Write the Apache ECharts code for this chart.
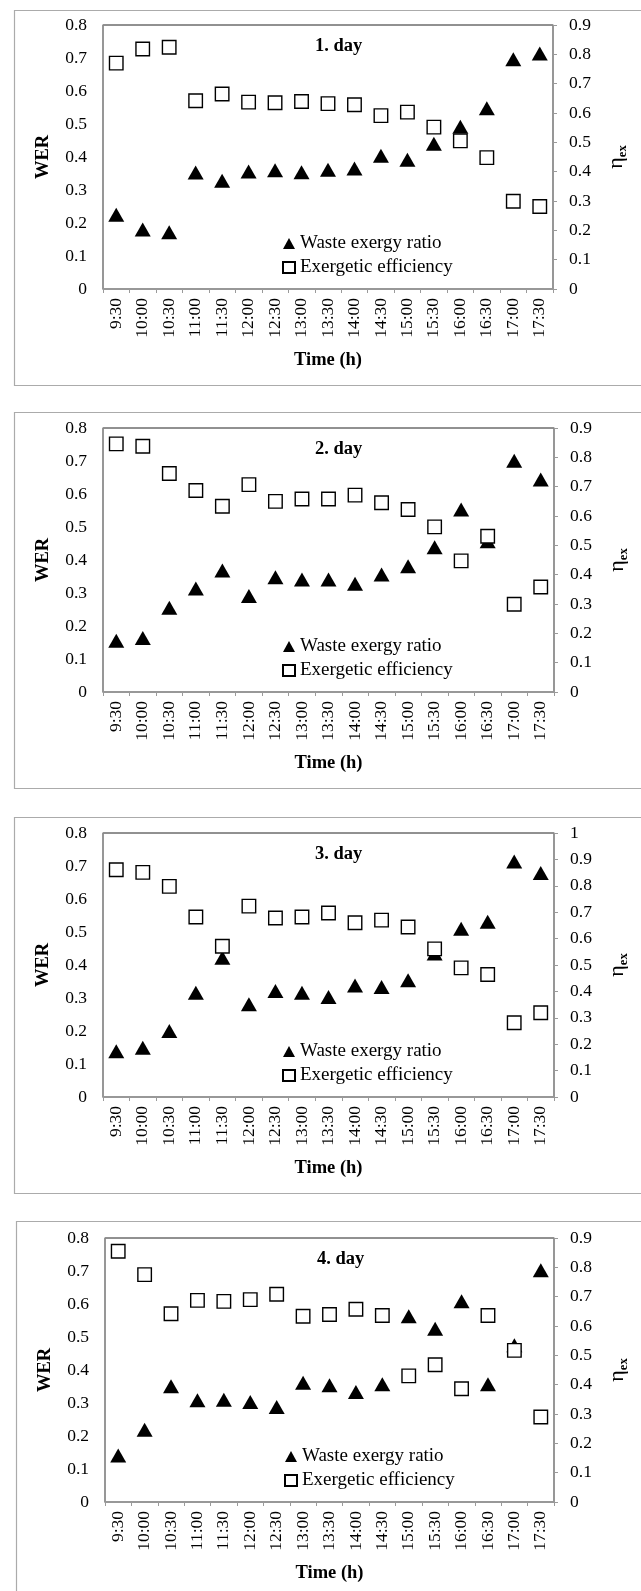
<!DOCTYPE html>
<html>
<head>
<meta charset="utf-8">
<script src="https://cdn.jsdelivr.net/npm/echarts@6/dist/echarts.min.js"></script>
<style>
  html, body { margin: 0; padding: 0; background: #fff; }
  #main { width: 641px; height: 1591px; }
</style>
</head>
<body>
<div id="main"></div>
<script>
// time of day (x categories)
var times = ['9:30', '10:00', '10:30', '11:00', '11:30', '12:00', '12:30', '13:00', '13:30',
  '14:00', '14:30', '15:00', '15:30', '16:00', '16:30', '17:00', '17:30'];

// waste exergy ratio (left axis) and exergetic efficiency (right axis)
var werDay1 = [0.225, 0.18, 0.172, 0.353, 0.328, 0.356, 0.36, 0.354, 0.361, 0.365, 0.404, 0.392, 0.44, 0.492, 0.548, 0.696, 0.714];
var etaDay1 = [0.77, 0.818, 0.824, 0.642, 0.665, 0.637, 0.635, 0.639, 0.632, 0.628, 0.591, 0.603, 0.552, 0.505, 0.448, 0.299, 0.281];

var werDay2 = [0.155, 0.164, 0.255, 0.314, 0.368, 0.291, 0.348, 0.341, 0.341, 0.328, 0.356, 0.381, 0.439, 0.553, 0.457, 0.701, 0.644];
var etaDay2 = [0.846, 0.838, 0.745, 0.687, 0.633, 0.707, 0.65, 0.658, 0.658, 0.671, 0.645, 0.622, 0.563, 0.447, 0.531, 0.299, 0.358];

var werDay3 = [0.139, 0.149, 0.2, 0.316, 0.422, 0.281, 0.321, 0.316, 0.303, 0.338, 0.333, 0.354, 0.435, 0.51, 0.531, 0.714, 0.679];
var etaDay3 = [0.861, 0.851, 0.798, 0.682, 0.571, 0.723, 0.678, 0.682, 0.697, 0.66, 0.67, 0.644, 0.561, 0.489, 0.464, 0.281, 0.319];

var werDay4 = [0.141, 0.219, 0.351, 0.308, 0.31, 0.303, 0.288, 0.361, 0.354, 0.333, 0.357, 0.563, 0.525, 0.608, 0.357, 0.475, 0.702];
var etaDay4 = [0.855, 0.775, 0.642, 0.6875, 0.684, 0.69, 0.708, 0.633, 0.639, 0.657, 0.636, 0.43, 0.468, 0.386, 0.636, 0.517, 0.29];

var dayTitles = ['1. day', '2. day', '3. day', '4. day'];
var etaMax = [0.9, 0.9, 1, 0.9];

// layout of the four panels (pixels)
var panels = [
  { wer: werDay1, eta: etaDay1, left: 103, right: 88, top: 25, frame: [14, 10, 375] },
  { wer: werDay2, eta: etaDay2, left: 103, right: 87, top: 428, frame: [14, 412, 376] },
  { wer: werDay3, eta: etaDay3, left: 103, right: 87, top: 833, frame: [14, 817, 376] },
  { wer: werDay4, eta: etaDay4, left: 105, right: 87, top: 1238, frame: [16, 1221, 400] }
];

var serif = 'Liberation Serif, Times New Roman, serif';
var axisGray = '#9a9a9a';
var plotH = 264;

var chart = echarts.init(document.getElementById('main'));

var option = {
  backgroundColor: '#fff',
  animation: false,
  title: [],
  legend: [],
  grid: [],
  xAxis: [],
  yAxis: [],
  series: [],
  graphic: []
};

panels.forEach(function (p, i) {
  // panel frame
  option.graphic.push({
    type: 'rect',
    z: -10,
    shape: { x: p.frame[0] + 0.5, y: p.frame[1] + 0.5, width: 700, height: p.frame[2] },
    style: { fill: 'none', stroke: '#ababab', lineWidth: 1.2 }
  });

  option.grid.push({
    left: p.left, right: p.right, top: p.top, height: plotH,
    show: true, borderColor: '#222', borderWidth: 1, backgroundColor: 'transparent'
  });

  option.title.push({
    text: dayTitles[i],
    left: p.left + 212,
    top: p.top + 12,
    padding: 0,
    textStyle: { fontFamily: serif, fontWeight: 'bold', fontSize: 18.5, color: '#000' }
  });

  option.legend.push({
    orient: 'vertical',
    left: p.left + 179,
    top: p.top + 209,
    padding: 0,
    itemGap: 5,
    itemWidth: 12,
    itemHeight: 11,
    data: ['Waste exergy ratio', 'Exergetic efficiency'],
    textStyle: { fontFamily: serif, fontSize: 19, color: '#000', lineHeight: 19 }
  });

  option.xAxis.push({
    type: 'category',
    gridIndex: i,
    data: times,
    boundaryGap: true,
    name: 'Time (h)',
    nameLocation: 'middle',
    nameGap: 62,
    nameTextStyle: { fontFamily: serif, fontWeight: 'bold', fontSize: 18.5, color: '#000' },
    axisLine: { lineStyle: { color: axisGray, width: 1.5 } },
    axisTick: { show: true, length: 4, lineStyle: { color: axisGray } },
    axisLabel: { interval: 0, rotate: 90, margin: 9, fontFamily: serif, fontSize: 17.5, color: '#000' },
    splitLine: { show: false }
  });

  // left axis: WER
  option.yAxis.push({
    type: 'value',
    gridIndex: i,
    position: 'left',
    min: 0, max: 0.8, interval: 0.1,
    name: 'WER',
    nameLocation: 'middle',
    nameRotate: 90,
    nameGap: 50,
    nameTextStyle: { fontFamily: serif, fontWeight: 'bold', fontSize: 18.5, color: '#000' },
    axisLine: { show: true, lineStyle: { color: axisGray, width: 1.5 } },
    axisTick: { show: false },
    axisLabel: { margin: 16, fontFamily: serif, fontSize: 17.5, color: '#000' },
    splitLine: { show: false }
  });

  // right axis: exergetic efficiency
  option.yAxis.push({
    type: 'value',
    gridIndex: i,
    position: 'right',
    min: 0, max: etaMax[i], interval: 0.1,
    name: '{a|η}{b|ex}',
    nameLocation: 'middle',
    nameRotate: 90,
    nameGap: 51,
    nameTextStyle: {
      rich: {
        a: { fontFamily: serif, fontSize: 22, color: '#000' },
        b: { fontFamily: serif, fontSize: 12.5, fontWeight: 'bold', color: '#000', padding: [12, 0, 0, 0] }
      }
    },
    axisLine: { show: true, lineStyle: { color: axisGray, width: 1.5 } },
    axisTick: { show: true, inside: false, length: 4, lineStyle: { color: axisGray } },
    axisLabel: { margin: 16, fontFamily: serif, fontSize: 17.5, color: '#000' },
    splitLine: { show: false }
  });

  option.series.push({
    name: 'Waste exergy ratio',
    type: 'scatter',
    xAxisIndex: i,
    yAxisIndex: i * 2,
    symbol: 'triangle',
    symbolSize: [16, 14],
    itemStyle: { color: '#000', opacity: 1 },
    data: p.wer
  });

  option.series.push({
    name: 'Exergetic efficiency',
    type: 'scatter',
    xAxisIndex: i,
    yAxisIndex: i * 2 + 1,
    symbol: 'rect',
    symbolSize: 13.5,
    itemStyle: { color: '#fff', borderColor: '#000', borderWidth: 1.4, opacity: 1 },
    data: p.eta
  });
});

chart.setOption(option);
</script>
</body>
</html>
